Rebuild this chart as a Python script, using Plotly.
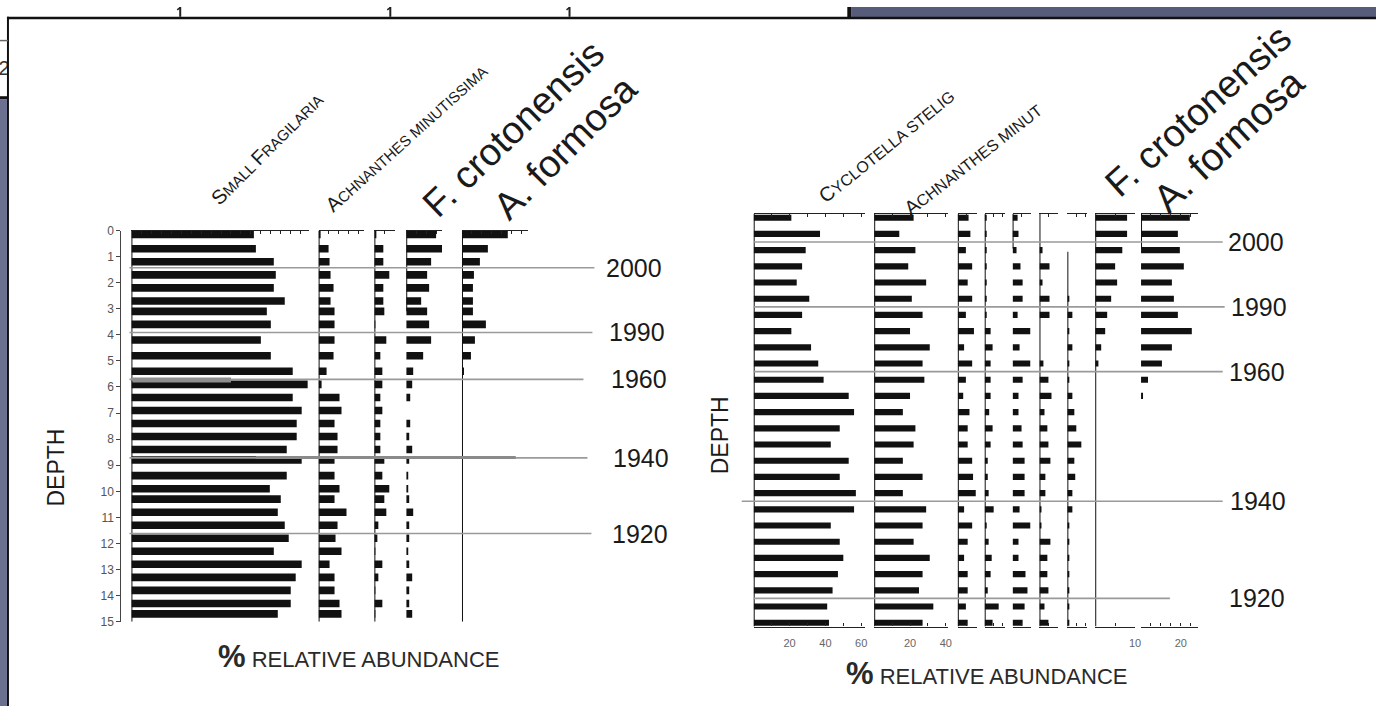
import plotly.graph_objects as go

W, H = 1382, 713
FONT = "Arial, 'Liberation Sans', Helvetica, sans-serif"


def fx(p):
    return p / W


def fy(p):
    return 1 - p / H


# ---------------- core A (left diagram) ----------------
L_DEPTH = [0.15, 0.7, 1.2, 1.7, 2.2, 2.7, 3.1, 3.6, 4.2, 4.8, 5.4, 5.9, 6.4, 6.9, 7.4,
           7.9, 8.4, 8.8, 9.4, 9.9, 10.3, 10.8, 11.3, 11.8, 12.3, 12.8, 13.3, 13.8, 14.3, 14.7]
L_SMALL_FRAG = [61.5, 62.5, 71.5, 72.5, 71.5, 77, 68, 70, 65, 70, 81, 88.5, 81, 85.5, 83,
                83, 78, 85.5, 78, 69.5, 75, 73.5, 77, 79, 71.5, 85.5, 82.5, 80, 80, 73.5]
L_ACH_MIN = [1, 5, 5.5, 6, 7.5, 6, 8, 8, 8, 7.5, 4, 1.5, 10.5, 11.5, 8,
             9.5, 9.5, 8, 8, 10.5, 8, 14, 9.5, 8.5, 11.5, 5.5, 8, 8, 10.5, 11.5]
L_TAXON_3 = [1, 4.5, 4.5, 7.5, 4.5, 4.5, 5, 0.5, 6, 3, 4, 4, 3, 4, 3,
             3, 3, 5, 4, 7.5, 5, 6, 2, 1.5, 0.5, 4, 2, 0.5, 4, 0.5]
L_F_CROT = [15, 18, 12.5, 10.5, 11.5, 7.5, 10.5, 11.5, 12.5, 8.5, 3.5, 3, 2, 0, 2,
            1.5, 3, 1.5, 1, 1, 1.5, 3.5, 1.5, 1.5, 1, 1.5, 3, 1.5, 1.5, 3]
L_A_FORM = [23, 13, 9, 6, 5.5, 5.5, 5.5, 12, 6.5, 4.5, 1, 0, 0, 0, 0,
            0, 0, 0, 0, 0, 0, 0, 0, 0, 0, 0, 0, 0, 0, 0]
L_DEPTH_TICKS = list(range(0, 16))
L_YEAR_DEPTH = [1.43, 3.91, 5.71, 8.72, 11.62]

# ---------------- core B (right diagram) ----------------
R_DEPTH = [0.25, 0.75, 1.25, 1.75, 2.25, 2.75, 3.25, 3.75, 4.25, 4.75, 5.25, 5.75, 6.25,
           6.75, 7.25, 7.75, 8.25, 8.75, 9.25, 9.75, 10.25, 10.75, 11.25, 11.75, 12.25, 12.75]
R_CYCLO = [21, 37, 29, 27, 24, 31, 27, 21, 32, 36, 39, 53, 56,
           48, 43, 53, 48, 57, 56, 43, 48, 50, 47, 44, 41, 42]
R_ACH_MIN = [22, 14, 23, 19, 29, 21, 27, 20, 31, 27, 28, 20, 16,
             23, 22, 16, 27, 16, 29, 27, 22, 31, 27, 25, 33, 27]
R_TAXON_3 = [6, 7, 4.5, 8, 5.5, 8, 4.5, 9, 3.5, 8, 4.5, 3, 6.5,
             5.5, 5.5, 8, 8.5, 10, 3.5, 8, 5.5, 3.5, 5.5, 5.5, 4.5, 5.5]
R_TAXON_4 = [0.6, 1, 1, 1, 1, 1, 1, 3.3, 4.4, 3.3, 3.3, 3.3, 2.5,
             4.4, 3.3, 1.7, 1.7, 2.2, 5, 1.1, 2.2, 3.9, 3.3, 1.7, 7.8, 4.4]
R_TAXON_5 = [2.8, 3.3, 2.2, 4.4, 5.6, 5.6, 2.8, 10, 3.9, 10, 5.6, 3.3, 3.3,
             5, 5.6, 6.7, 6.7, 6.7, 3.9, 10, 3.3, 3.3, 7.2, 8.3, 6.7, 5.6]
R_TAXON_6 = [0, 0, 1.7, 5.6, 1.7, 5.6, 5.6, 0, 0, 2.2, 5, 6.7, 2.8,
             4.4, 5, 6.1, 3.3, 3.3, 1.1, 1.1, 6.1, 4.4, 4.4, 5, 2.8, 5]
R_TAXON_7 = [0, 0, 0, 0, 0, 1.1, 2.8, 1.1, 2.8, 1.1, 1.1, 2.8, 3.9,
             5, 7.8, 3.9, 4.4, 2.8, 2.8, 1.1, 1.1, 1.1, 1.1, 1.1, 1.1, 1.1]
R_F_CROT = [8, 8, 6.8, 5, 5.5, 4, 3, 2.5, 1.5, 0.8, 0, 0, 0,
            0, 0, 0, 0, 0, 0, 0, 0, 0, 0, 0, 0, 0]
R_A_FORM = [24.5, 18.5, 19.5, 21.5, 15.5, 16.5, 18.5, 25.5, 15.5, 10.5, 3.5, 1, 0,
            0, 0, 0, 0, 0, 0, 0, 0, 0, 0, 0, 0, 0]
R_YEAR_DEPTH = [1.0, 3.0, 5.0, 9.0, 12.0]

YEARS = ["2000", "1990", "1960", "1940", "1920"]

# tick labels under the right-hand columns (value -> label)
R_TICKTEXT = [
    {20: "20", 40: "40", 60: "60"},
    {20: "20", 40: "40"},
    {}, {}, {}, {}, {},
    {10: "10"},
    {20: "20"},
]

# ---------------- layout geometry (pixels) ----------------
L_SERIES = [L_SMALL_FRAG, L_ACH_MIN, L_TAXON_3, L_F_CROT, L_A_FORM]
L_GEOM = [(132, 310), (320, 366), (376, 397), (408, 444), (464, 530)]
L_SCALE = 2.0
L_BASE_SPAN = [(0, 15), (0, 15), (0, 15), (0, 3.1), (0, 15)]
L_Y_TOP, L_Y_BOT = 228, 627

R_SERIES = [R_CYCLO, R_ACH_MIN, R_TAXON_3, R_TAXON_4, R_TAXON_5,
            R_TAXON_6, R_TAXON_7, R_F_CROT, R_A_FORM]
R_GEOM = [(757, 869), (878, 952), (962, 981), (989, 1009), (1017, 1035),
          (1044, 1063), (1072, 1092), (1100, 1140), (1146, 1203)]
R_SCALE = [1.8, 1.8, 1.8, 1.8, 1.8, 1.8, 1.8, 4.0, 2.0]
R_Y_TOP, R_Y_BOT = 211, 632
R_RANGE = [12.87, 0.13]
R_BASE_SPAN = [None, None, None, None, (0.13, 1.2), None, (1.3, 12.87), None, (0.13, 1.2)]

fig = go.Figure()
layout_axes = {}
shapes = []

# ---- left diagram ----
for i, (vals, (p0, p1)) in enumerate(zip(L_SERIES, L_GEOM)):
    n = i + 1
    xname = "x" if n == 1 else f"x{n}"
    xkey = "xaxis" if n == 1 else f"xaxis{n}"
    rmax = (p1 - p0) / L_SCALE
    fig.add_trace(go.Bar(x=vals, y=L_DEPTH, orientation="h", xaxis=xname, yaxis="y",
                         width=0.29, marker=dict(color="#111111", line=dict(width=0)),
                         showlegend=False, hoverinfo="x+y"))
    layout_axes[xkey] = dict(domain=[fx(p0), fx(p1)], range=[0, rmax], anchor="y",
                             side="top", showline=True, linecolor="#222", linewidth=1.2,
                             ticks="inside", ticklen=3, tickcolor="#222", tickwidth=1,
                             tickvals=[v for v in range(0, int(rmax) + 1, 5)],
                             showticklabels=False, showgrid=False, zeroline=False,
                             fixedrange=True)
    s0, s1 = L_BASE_SPAN[i]
    shapes.append(dict(type="line", xref=xname, yref="y", x0=0, x1=0, y0=s0, y1=s1,
                       line=dict(color="#111", width=2), layer="above"))

layout_axes["yaxis"] = dict(domain=[fy(L_Y_BOT), fy(L_Y_TOP)], range=[15, 0],
                            anchor="free", position=fx(121), showline=True,
                            linecolor="#444", linewidth=1.2, ticks="outside", ticklen=4,
                            tickcolor="#444", tickvals=L_DEPTH_TICKS,
                            tickfont=dict(family=FONT, size=12, color="#555555"),
                            showgrid=False, zeroline=False, fixedrange=True)

# ---- right diagram ----
for i, (vals, (p0, p1)) in enumerate(zip(R_SERIES, R_GEOM)):
    n = i + 6
    xname = f"x{n}"
    rmax = (p1 - p0) / R_SCALE[i]
    step = 10 if rmax > 30 else 5
    tv = [v for v in range(0, int(rmax) + 1, step)]
    tt = [R_TICKTEXT[i].get(v, "") for v in tv]
    fig.add_trace(go.Bar(x=vals, y=R_DEPTH, orientation="h", xaxis=xname, yaxis="y2",
                         width=0.19, marker=dict(color="#111111", line=dict(width=0)),
                         showlegend=False, hoverinfo="x+y"))
    layout_axes[f"xaxis{n}"] = dict(domain=[fx(p0), fx(p1)], range=[0, rmax], anchor="y2",
                                    side="bottom", showline=True, linecolor="#222",
                                    linewidth=1.2, mirror="ticks", ticks="inside", ticklen=3,
                                    tickcolor="#222", tickvals=tv, ticktext=tt,
                                    ticklabelstandoff=6,
                                    tickfont=dict(family=FONT, size=11, color="#666666"),
                                    showgrid=False, zeroline=False, fixedrange=True)
    span = R_BASE_SPAN[i] or (R_RANGE[1], R_RANGE[0])
    shapes.append(dict(type="line", xref=xname, yref="y2", x0=0, x1=0, y0=span[0], y1=span[1],
                       line=dict(color="#111", width=2), layer="above"))

layout_axes["yaxis2"] = dict(domain=[fy(R_Y_BOT), fy(R_Y_TOP)], range=R_RANGE,
                             anchor="free", position=fx(757), visible=False,
                             fixedrange=True)

# ---- slide fragment "2" on the left edge (clipped to its strip) ----
fig.add_trace(go.Scatter(x=[4], y=[0.5], mode="text", text=["2"], xaxis="x15", yaxis="y3",
                         textfont=dict(family=FONT, size=20, color="#333"),
                         showlegend=False, hoverinfo="skip", cliponaxis=True))
layout_axes["xaxis15"] = dict(domain=[0, fx(7)], range=[0, 7], anchor="y3", visible=False,
                              fixedrange=True)
layout_axes["yaxis3"] = dict(domain=[fy(92), fy(36)], range=[0, 1], anchor="x15",
                             visible=False, fixedrange=True)

# ---- year horizons ----
L_YEAR_END = [597, 595, 586, 590, 594]
L_YEAR_LABEL_X = [637, 640, 642, 644, 643]
for d, x1, lx, yr in zip(L_YEAR_DEPTH, L_YEAR_END, L_YEAR_LABEL_X, YEARS):
    shapes.append(dict(type="line", xref="paper", yref="y", x0=fx(130), x1=fx(x1), y0=d, y1=d,
                       line=dict(color="#9a9a9a", width=1.6), layer="above"))
    fig.add_annotation(x=fx(lx), y=d, xref="paper", yref="y", text=yr, showarrow=False,
                       xanchor="center", yanchor="middle",
                       font=dict(family=FONT, size=25, color="#1a1a1a"))
R_YEAR_START = [757, 757, 757, 745, 757]
R_YEAR_END = [1228, 1230, 1228, 1228, 1175]
R_YEAR_LABEL_X = [1261, 1264, 1262, 1263, 1262]
for d, x0, x1, lx, yr in zip(R_YEAR_DEPTH, R_YEAR_START, R_YEAR_END, R_YEAR_LABEL_X, YEARS):
    shapes.append(dict(type="line", xref="paper", yref="y2", x0=fx(x0), x1=fx(x1), y0=d, y1=d,
                       line=dict(color="#9a9a9a", width=1.6), layer="above"))
    fig.add_annotation(x=fx(lx), y=d, xref="paper", yref="y2", text=yr, showarrow=False,
                       xanchor="center", yanchor="middle",
                       font=dict(family=FONT, size=25, color="#1a1a1a"))

# darker smudges along two horizons in the left diagram
shapes.append(dict(type="rect", xref="paper", yref="paper", x0=fx(257), x1=fx(518),
                   y0=fy(461), y1=fy(458), fillcolor="#8a8a8a", line=dict(width=0), layer="above"))
shapes.append(dict(type="rect", xref="paper", yref="paper", x0=fx(133), x1=fx(232),
                   y0=fy(383), y1=fy(378), fillcolor="#8f8f8f", line=dict(width=0), layer="above"))


# ---- taxon headers ----
def small_caps(parts, big, small):
    out = []
    for word in parts:
        out.append(f"<span style='font-size:{big}px'>{word[0]}</span>"
                   f"<span style='font-size:{small}px'>{word[1:]}</span>")
    return " ".join(out)


headers = [
    (268, 145, -45, small_caps(["SMALL", "FRAGILARIA"], 20, 15), 15),
    (408, 134, -42, "<span style='font-size:20px'>A</span>CHNANTHES MINUTISSIMA", 15),
    (515, 124, -44, "F. crotonensis", 38),
    (568, 143, -45, "A. formosa", 38),
    (890, 142, -39, "<span style='font-size:20px'>C</span>YCLOTELLA STELIG", 16),
    (977, 155, -38, "<span style='font-size:20px'>A</span>CHNANTHES MINUT", 16),
    (1203, 106, -42, "F. crotonensis", 38),
    (1234, 136, -43, "A. formosa", 39),
]
for x, y, ang, txt, size in headers:
    fig.add_annotation(x=fx(x), y=fy(y), xref="paper", yref="paper", text=txt,
                       showarrow=False, textangle=ang, xanchor="center", yanchor="middle",
                       font=dict(family=FONT, size=size, color="#1a1a1a"))

# ---- axis titles ----
for x, y in [(56, 470), (724, 437)]:
    fig.add_annotation(x=fx(x), y=fy(y), xref="paper", yref="paper", text="DEPTH",
                       showarrow=False, textangle=-90, xanchor="center", yanchor="middle",
                       font=dict(family=FONT, size=23, color="#1a1a1a"))
for x, y in [(360, 663), (991, 680)]:
    fig.add_annotation(x=fx(x), y=fy(y), xref="paper", yref="paper",
                       text="<span style='font-size:31px'><b>%</b></span> RELATIVE ABUNDANCE",
                       showarrow=False, xanchor="center", yanchor="middle",
                       font=dict(family=FONT, size=22, color="#2a2a2a"))

# ---- surrounding slide frame ----
frame = [
    (855, 0, W, 11, "#575c7b"),     # top-right slate strip
    (851, 0, 855, 11, "#111111"),   # divider
    (7, 10, W, 12.5, "#111111"),    # top rule
    (7, 10, 9, H, "#111111"),       # left rule
    (0, 94, 7, H, "#6b7090"),       # left slate strip
    (0, 91, 8, 94, "#111111"),      # left divider
    (0, 33.5, 8, 35, "#666666"),    # faint rule in the left strip
]
for x0, y0, x1, y1, col in frame:
    shapes.append(dict(type="rect", xref="paper", yref="paper", x0=fx(x0), x1=fx(x1),
                       y0=fy(y1), y1=fy(y0), fillcolor=col, line=dict(width=0), layer="below"))
for tx in [181, 392, 572]:
    shapes.append(dict(type="line", xref="paper", yref="paper", x0=fx(tx), x1=fx(tx),
                       y0=fy(10), y1=fy(0), line=dict(color="#222", width=2), layer="below"))
    shapes.append(dict(type="line", xref="paper", yref="paper", x0=fx(tx - 3), x1=fx(tx),
                       y0=fy(3), y1=fy(0.5), line=dict(color="#222", width=1.5), layer="below"))

fig.update_layout(
    width=W, height=H,
    margin=dict(l=0, r=0, t=0, b=0),
    paper_bgcolor="white", plot_bgcolor="rgba(0,0,0,0)",
    barmode="overlay", showlegend=False,
    shapes=shapes,
    font=dict(family=FONT),
    **layout_axes,
)

fig.write_html("out.html", config={"displayModeBar": False})
